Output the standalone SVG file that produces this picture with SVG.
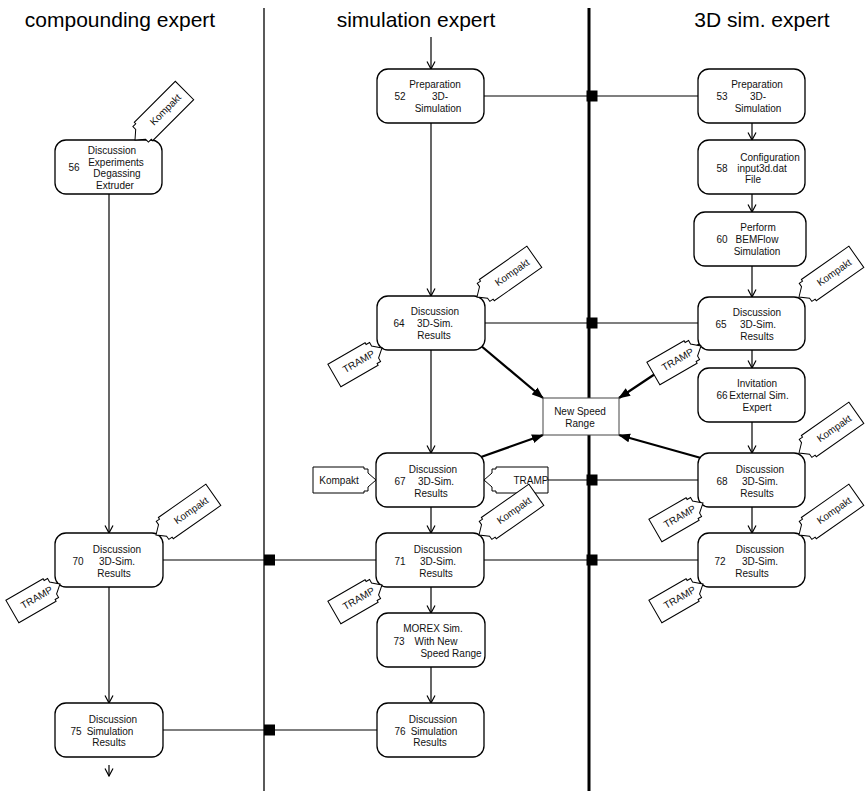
<svg xmlns="http://www.w3.org/2000/svg" xmlns:xlink="http://www.w3.org/1999/xlink" width="865" height="791" viewBox="0 0 865 791">
  <style>
    text { font-family: "Liberation Sans", Arial, sans-serif; font-size: 10px; fill: #111; }
    .hdr { font-size: 21px; text-anchor: middle; fill: #000; }
    .c { text-anchor: middle; }
    .node rect { fill: #fff; stroke: #000; stroke-width: 1.3; }
    .nsr rect { fill: #fff; stroke: #444; stroke-width: 1; }
    .lane { stroke: #000; fill: none; }
    .conn { stroke: #000; stroke-width: 1.2; fill: none; }
    .flow { marker-end: url(#open); }
    .bold { stroke: #000; stroke-width: 2.2; fill: none; marker-end: url(#solid); }
    .sq { fill: #000; }
    .tag { fill: #fff; stroke: #000; stroke-width: 1; }
  </style>
  <defs>
    <marker id="open" viewBox="0 0 10 10" refX="9" refY="5" markerWidth="10" markerHeight="10" markerUnits="userSpaceOnUse" orient="auto">
      <path d="M1.5,1 L9,5 L1.5,9" fill="none" stroke="#000" stroke-width="1.2"/>
    </marker>
    <marker id="solid" viewBox="0 0 12 10" refX="11" refY="5" markerWidth="12" markerHeight="10" markerUnits="userSpaceOnUse" orient="auto">
      <path d="M0,0.5 L12,5 L0,9.5 Z" fill="#000"/>
    </marker>
    <!-- tool flags: tip at the origin, body running along +x or -x -->
    <path id="tagK" class="tag" d="M0,0 L8,-7 L8,-11 L12,-11 L12,-13 L70,-13 L70,13 L12,13 L12,11 L8,11 L8,7 Z"/>
    <path id="tagT" class="tag" d="M0,0 L-8,-7 L-8,-11 L-12,-11 L-12,-13 L-55,-13 L-55,13 L-12,13 L-12,11 L-8,11 L-8,7 Z"/>
    <path id="tagKh" class="tag" d="M0,0 L-8,-7 L-8,-11 L-12,-11 L-12,-13 L-63,-13 L-63,13 L-12,13 L-12,11 L-8,11 L-8,7 Z"/>
    <path id="tagTh" class="tag" d="M0,0 L8,-7 L8,-11 L12,-11 L12,-13 L64,-13 L64,13 L12,13 L12,11 L8,11 L8,7 Z"/>
  </defs>

  <!-- swimlane headers and separators -->
  <g id="lanes">
    <text class="hdr" x="120" y="27">compounding expert</text>
    <text class="hdr" x="416" y="27">simulation expert</text>
    <text class="hdr" x="762" y="27">3D sim. expert</text>
    <line class="lane" x1="264" y1="8" x2="264" y2="791" stroke-width="1.3"/>
    <line class="lane" x1="589" y1="8" x2="589" y2="791" stroke-width="3"/>
  </g>

  <!-- connectors -->
  <g id="connectors">
    <!-- control flow -->
    <line class="conn flow" x1="431" y1="37" x2="431" y2="69"/>
    <line class="conn flow" x1="431" y1="123" x2="431" y2="296"/>
    <line class="conn flow" x1="431" y1="350" x2="431" y2="453"/>
    <line class="conn flow" x1="431" y1="507" x2="431" y2="533"/>
    <line class="conn flow" x1="431" y1="587" x2="431" y2="613"/>
    <line class="conn flow" x1="431" y1="667" x2="431" y2="703"/>
    <line class="conn flow" x1="752" y1="123" x2="752" y2="140"/>
    <line class="conn flow" x1="752" y1="194" x2="752" y2="212"/>
    <line class="conn flow" x1="752" y1="266" x2="752" y2="297"/>
    <line class="conn flow" x1="752" y1="350" x2="752" y2="368"/>
    <line class="conn flow" x1="752" y1="422" x2="752" y2="453"/>
    <line class="conn flow" x1="752" y1="507" x2="752" y2="533"/>
    <line class="conn flow" x1="109" y1="194" x2="109" y2="533"/>
    <line class="conn flow" x1="109" y1="587" x2="109" y2="703"/>
    <line class="conn flow" x1="109" y1="765" x2="109" y2="776"/>

    <!-- cross-lane communication -->
    <line class="conn" x1="484" y1="96" x2="698" y2="96"/>
    <line class="conn" x1="485" y1="323" x2="698" y2="323"/>
    <line class="conn" x1="484" y1="480" x2="698" y2="480"/>
    <line class="conn" x1="163" y1="560" x2="376" y2="560"/>
    <line class="conn" x1="484" y1="560" x2="698" y2="560"/>
    <line class="conn" x1="163" y1="730" x2="377" y2="730"/>
    <rect class="sq" x="586.5" y="90.5" width="11" height="11"/>
    <rect class="sq" x="586.5" y="317.5" width="11" height="11"/>
    <rect class="sq" x="586.5" y="474.5" width="11" height="11"/>
    <rect class="sq" x="586.5" y="554.5" width="11" height="11"/>
    <rect class="sq" x="264" y="554.5" width="11" height="11"/>
    <rect class="sq" x="264" y="724.5" width="11" height="11"/>

    <!-- results feeding the new speed range -->
    <line class="bold" x1="480" y1="345" x2="543" y2="398"/>
    <line class="bold" x1="700" y1="344" x2="619" y2="398"/>
    <line class="bold" x1="481" y1="457" x2="543" y2="435"/>
    <line class="bold" x1="701" y1="458" x2="619" y2="435"/>
  </g>

  <!-- activities -->
  <g id="n52" class="node">
    <rect x="377" y="69" width="107" height="54" rx="11"/>
    <text class="c" x="435" y="88">Preparation</text>
    <text class="c" x="400" y="100">52</text>
    <text class="c" x="440" y="100">3D-</text>
    <text class="c" x="438" y="112">Simulation</text>
  </g>
  <g id="n53" class="node">
    <rect x="698" y="69" width="107" height="54" rx="11"/>
    <text class="c" x="757" y="88">Preparation</text>
    <text class="c" x="722" y="100">53</text>
    <text class="c" x="758" y="100">3D-</text>
    <text class="c" x="758" y="112">Simulation</text>
  </g>
  <g id="n56" class="node">
    <rect x="55" y="140" width="107" height="54" rx="11"/>
    <text class="c" x="112" y="153.5">Discussion</text>
    <text class="c" x="74" y="170.5">56</text>
    <text class="c" x="116" y="165.5">Experiments</text>
    <text class="c" x="117" y="177">Degassing</text>
    <text class="c" x="115" y="188.5">Extruder</text>
  </g>
  <g id="n58" class="node">
    <rect x="698" y="140" width="107" height="54" rx="11"/>
    <text class="c" x="770" y="160.5">Configuration</text>
    <text class="c" x="722" y="171.5">58</text>
    <text class="c" x="762" y="171.5">input3d.dat</text>
    <text class="c" x="753" y="182.5">File</text>
  </g>
  <g id="n60" class="node">
    <rect x="694" y="212" width="112" height="54" rx="11"/>
    <text class="c" x="758" y="230.5">Perform</text>
    <text class="c" x="722" y="242.5">60</text>
    <text class="c" x="757" y="242.5">BEMFlow</text>
    <text class="c" x="757" y="255">Simulation</text>
  </g>
  <g id="n64" class="node">
    <rect x="377" y="296" width="108" height="54" rx="11"/>
    <text class="c" x="435" y="315">Discussion</text>
    <text class="c" x="399" y="327">64</text>
    <text class="c" x="435" y="327">3D-Sim.</text>
    <text class="c" x="434" y="339">Results</text>
  </g>
  <g id="n65" class="node">
    <rect x="698" y="297" width="107" height="53" rx="11"/>
    <text class="c" x="757" y="315.5">Discussion</text>
    <text class="c" x="721" y="327.5">65</text>
    <text class="c" x="758" y="327.5">3D-Sim.</text>
    <text class="c" x="757" y="339.5">Results</text>
  </g>
  <g id="n66" class="node">
    <rect x="698" y="368" width="107" height="54" rx="11"/>
    <text class="c" x="757" y="387">Invitation</text>
    <text class="c" x="722" y="399">66</text>
    <text class="c" x="759" y="399">External Sim.</text>
    <text class="c" x="757" y="411">Expert</text>
  </g>
  <g id="nNSR" class="nsr">
    <rect x="543" y="398" width="76" height="37"/>
    <text class="c" x="580" y="414.5">New Speed</text>
    <text class="c" x="580" y="426.5">Range</text>
  </g>
  <g id="n67" class="node">
    <rect x="376" y="453" width="108" height="54" rx="11"/>
    <text class="c" x="433" y="472.5">Discussion</text>
    <text class="c" x="400" y="484.5">67</text>
    <text class="c" x="436" y="484.5">3D-Sim.</text>
    <text class="c" x="431" y="496.5">Results</text>
  </g>
  <g id="n68" class="node">
    <rect x="698" y="453" width="107" height="54" rx="11"/>
    <text class="c" x="760" y="472.5">Discussion</text>
    <text class="c" x="722" y="484.5">68</text>
    <text class="c" x="760" y="484.5">3D-Sim.</text>
    <text class="c" x="757" y="496.5">Results</text>
  </g>
  <g id="n70" class="node">
    <rect x="55" y="533" width="108" height="54" rx="11"/>
    <text class="c" x="117" y="552.5">Discussion</text>
    <text class="c" x="78" y="564.5">70</text>
    <text class="c" x="117" y="564.5">3D-Sim.</text>
    <text class="c" x="114" y="576.5">Results</text>
  </g>
  <g id="n71" class="node">
    <rect x="376" y="533" width="108" height="54" rx="11"/>
    <text class="c" x="438" y="552.5">Discussion</text>
    <text class="c" x="400" y="564.5">71</text>
    <text class="c" x="438" y="564.5">3D-Sim.</text>
    <text class="c" x="436" y="576.5">Results</text>
  </g>
  <g id="n72" class="node">
    <rect x="698" y="533" width="107" height="54" rx="11"/>
    <text class="c" x="760" y="552.5">Discussion</text>
    <text class="c" x="720" y="564.5">72</text>
    <text class="c" x="760" y="564.5">3D-Sim.</text>
    <text class="c" x="752" y="576.5">Results</text>
  </g>
  <g id="n73" class="node">
    <rect x="377" y="613" width="108" height="54" rx="11"/>
    <text class="c" x="433" y="631.5">MOREX Sim.</text>
    <text class="c" x="399" y="644.5">73</text>
    <text class="c" x="436" y="644.5">With New</text>
    <text class="c" x="451" y="656.5">Speed Range</text>
  </g>
  <g id="n75" class="node">
    <rect x="55" y="703" width="108" height="54" rx="11"/>
    <text class="c" x="113" y="722.5">Discussion</text>
    <text class="c" x="76" y="734.5">75</text>
    <text class="c" x="110" y="734.5">Simulation</text>
    <text class="c" x="109" y="746">Results</text>
  </g>
  <g id="n76" class="node">
    <rect x="377" y="703" width="107" height="54" rx="11"/>
    <text class="c" x="433" y="722.5">Discussion</text>
    <text class="c" x="400" y="734.5">76</text>
    <text class="c" x="434" y="734.5">Simulation</text>
    <text class="c" x="430" y="746">Results</text>
  </g>

  <!-- tool flags -->
  <g id="k56" transform="translate(135,140) rotate(-45)"><use xlink:href="#tagK"/><text class="c" x="43" y="3.5">Kompakt</text></g>
  <g id="k64" transform="translate(477,297) rotate(-35)"><use xlink:href="#tagK"/><text class="c" x="43" y="3.5">Kompakt</text></g>
  <g id="t64" transform="translate(382,348) rotate(-30)"><use xlink:href="#tagT"/><text class="c" x="-27" y="3.5">TRAMP</text></g>
  <g id="k65" transform="translate(799,297) rotate(-35)"><use xlink:href="#tagK"/><text class="c" x="43" y="3.5">Kompakt</text></g>
  <g id="t65" transform="translate(701,346) rotate(-30)"><use xlink:href="#tagT"/><text class="c" x="-27" y="3.5">TRAMP</text></g>
  <g id="k67" transform="translate(376,480)"><use xlink:href="#tagKh"/><text class="c" x="-37" y="3.5">Kompakt</text></g>
  <g id="t67" transform="translate(484,480)"><use xlink:href="#tagTh"/><text class="c" x="47" y="3.5">TRAMP</text></g>
  <g id="k68" transform="translate(799,453) rotate(-35)"><use xlink:href="#tagK"/><text class="c" x="43" y="3.5">Kompakt</text></g>
  <g id="t68" transform="translate(703,503) rotate(-30)"><use xlink:href="#tagT"/><text class="c" x="-27" y="3.5">TRAMP</text></g>
  <g id="k70" transform="translate(156,535) rotate(-35)"><use xlink:href="#tagK"/><text class="c" x="43" y="3.5">Kompakt</text></g>
  <g id="t70" transform="translate(60,584) rotate(-30)"><use xlink:href="#tagT"/><text class="c" x="-27" y="3.5">TRAMP</text></g>
  <g id="k71" transform="translate(479,535) rotate(-35)"><use xlink:href="#tagK"/><text class="c" x="43" y="3.5">Kompakt</text></g>
  <g id="t71" transform="translate(382,585) rotate(-30)"><use xlink:href="#tagT"/><text class="c" x="-27" y="3.5">TRAMP</text></g>
  <g id="k72" transform="translate(799,535) rotate(-35)"><use xlink:href="#tagK"/><text class="c" x="43" y="3.5">Kompakt</text></g>
  <g id="t72" transform="translate(703,584) rotate(-30)"><use xlink:href="#tagT"/><text class="c" x="-27" y="3.5">TRAMP</text></g>
</svg>
